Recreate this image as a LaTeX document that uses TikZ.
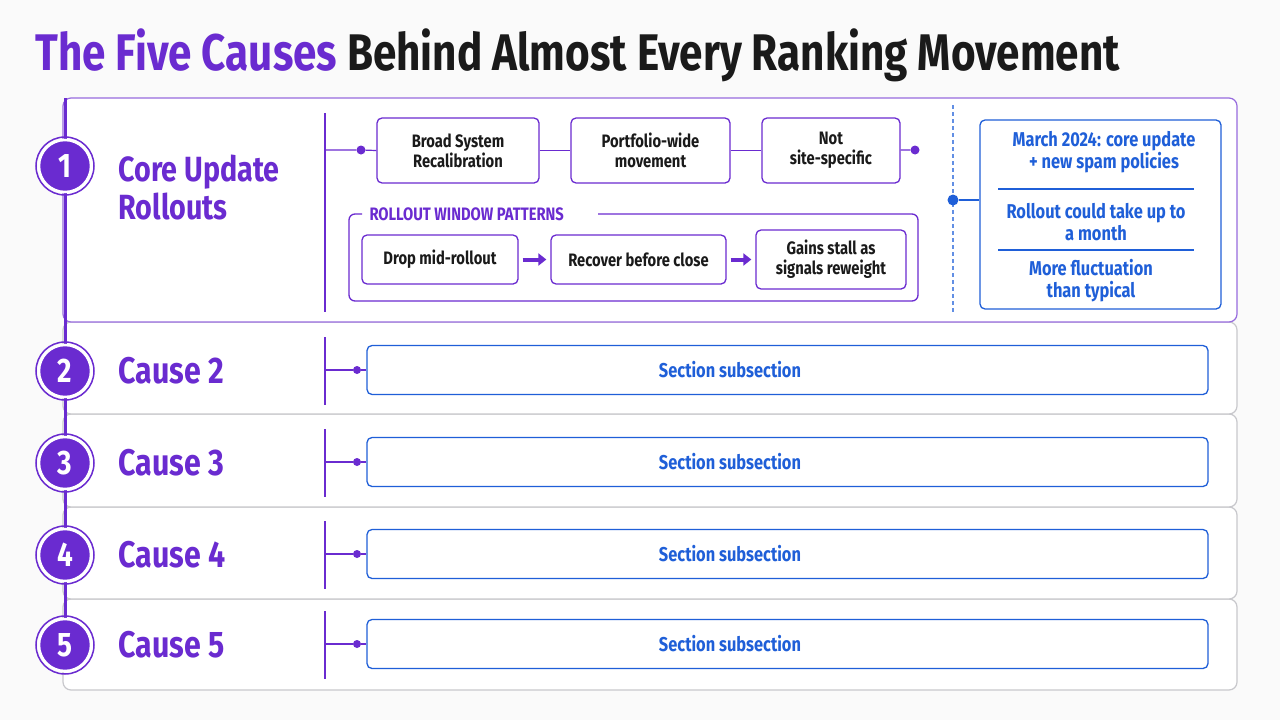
\documentclass[tikz,border=0pt]{standalone}
\usepackage{fontspec}
\setmainfont{Fira Sans}[FakeStretch=0.82]
\usetikzlibrary{arrows.meta}
\definecolor{pur}{HTML}{6A2BD0}
\definecolor{blu}{HTML}{1F5FD8}
\definecolor{ink}{HTML}{1A1A1A}
\definecolor{gry}{HTML}{C8C8CC}
\begin{document}
\begin{tikzpicture}[x=1pt,y=-1pt,
  panel/.style={rounded corners=8pt,line width=1.2pt,fill=white},
  pbox/.style={draw=pur,rounded corners=5pt,line width=1.3pt,fill=white,align=center,text=ink,font=\fontsize{18}{20}\bfseries\selectfont},
  bbox/.style={draw=blu,rounded corners=5pt,line width=1.3pt,fill=white},
  btxt/.style={text=blu,align=center,font=\fontsize{20}{22}\bfseries\selectfont},
  num/.style={circle,fill=pur,draw=white,line width=2.5pt,minimum size=52pt,text=white,font=\fontsize{34}{36}\bfseries\selectfont},
  ring/.style={circle,draw=pur,line width=1.5pt,minimum size=58pt},
  cause/.style={anchor=west,text=pur,align=left,font=\fontsize{37}{40}\bfseries\selectfont},
  dot/.style={circle,fill=#1,inner sep=0pt,minimum size=9pt},
  arr/.style={-{Triangle[length=8pt,width=12pt]},line width=4pt,pur,shorten <=4pt,shorten >=4pt}]
\fill[white!96!gray] (0,0) rectangle (1280,720);
\useasboundingbox (0,0) rectangle (1280,720);
\node[anchor=west,font=\fontsize{51.5}{56}\bfseries\selectfont] (title) at (32,55) {\textcolor{pur}{The Five Causes} \textcolor{ink}{Behind Almost Every Ranking Movement}};
% panels
\draw[panel,draw=gry] (63,599) rectangle (1237,690);
\draw[panel,draw=gry] (63,507) rectangle (1237,599);
\draw[panel,draw=gry] (63,414) rectangle (1237,507);
\draw[panel,draw=gry] (63,322) rectangle (1237,414);
\draw[panel,draw=pur!70] (63,98) rectangle (1237,322);
% timeline
\draw[pur,line width=3pt] (65,98) -- (65,645);
\foreach \i/\y in {1/166,2/371,3/463,4/555,5/645}{
  \node[ring] (r\i) at (65,\y) {};
  \node[num] (n\i) at (65,\y) {\i};
}
\node[cause,font=\fontsize{35}{38}\bfseries\selectfont] (c1) at (115,188) {Core Update\\Rollouts};
\foreach \i/\y in {2/371,3/463,4/555,5/645}{
  \node[cause] (c\i) at (115,\y) {Cause \i};
  \draw[pur,line width=1.2pt] (325,\y-34) -- (325,\y+34);
  \node[bbox,minimum width=841pt,minimum height=49pt] (s\i) at (787.5,\y-1) {};
  \node[btxt] (t\i) at (730,\y-1) {Section subsection};
  \coordinate (v\i) at (325,\y-1);
  \node[dot=pur,minimum size=8pt] (d\i) at (357,\y-1) {};
  \draw[pur,line width=1.2pt] (v\i) -- (d\i);
  \draw[pur,line width=1.2pt] (d\i) -- (s\i.west);
}
% row 1 content
\draw[pur,line width=1.2pt] (325,113) -- (325,312);
\node[pbox,minimum width=162pt,minimum height=65pt] (b1) at (458,150.5) {Broad System\\Recalibration};
\node[pbox,minimum width=159pt,minimum height=65pt] (b2) at (650.5,150.5) {Portfolio-wide\\movement};
\node[pbox,minimum width=138pt,minimum height=65pt] (b3) at (831,150.5) {Not\\site-specific};
\coordinate (v1) at (325,150);
\node[dot=pur] (d1) at (361,150) {};
\node[dot=pur] (d1r) at (915,150) {};
\draw[pur,line width=1.2pt] (v1) -- (d1) -- (b1.west);
\draw[pur,line width=1.2pt] (b1) -- (b2);
\draw[pur,line width=1.2pt] (b2) -- (b3);
\draw[pur,line width=1.2pt] (b3) -- (d1r);
\draw[pur,line width=1.3pt,rounded corners=6pt] (362,214) -- (349,214) -- (349,301) -- (918,301) -- (918,214) -- (598,214);
\node[anchor=west,text=pur,font=\fontsize{18}{20}\bfseries\selectfont] (grp) at (366,214) {ROLLOUT WINDOW PATTERNS};
\node[pbox,minimum width=156pt,minimum height=49pt] (p1) at (440,259.5) {Drop mid-rollout};
\node[pbox,minimum width=175pt,minimum height=49pt] (p2) at (638.5,259.5) {Recover before close};
\node[pbox,minimum width=150pt,minimum height=59pt] (p3) at (831,259.5) {Gains stall as\\signals reweight};
\draw[arr] (p1) -- (p2);
\draw[arr] (p2) -- (p3);
% right note
\draw[blu!70,line width=1.2pt,dash pattern=on 4pt off 3pt] (953,105) -- (953,312);
\node[bbox,minimum width=241pt,minimum height=189pt] (nb) at (1100.5,214.5) {};
\node[dot=blu,minimum size=11pt] (nd) at (953,200) {};
\draw[blu,line width=1.2pt] (nd) -- (nb.west|-nd);
\node[btxt] (m1) at (1104,152) {March 2024: core update\\+ new spam policies};
\draw[blu,line width=1.2pt] (998,189) -- (1194,189);
\node[btxt] (m2) at (1096,222) {Rollout could take up to\\a month};
\draw[blu,line width=1.2pt] (998,250) -- (1194,250);
\node[btxt] (m3) at (1091,281) {More fluctuation\\than typical};
\end{tikzpicture}
\end{document}
